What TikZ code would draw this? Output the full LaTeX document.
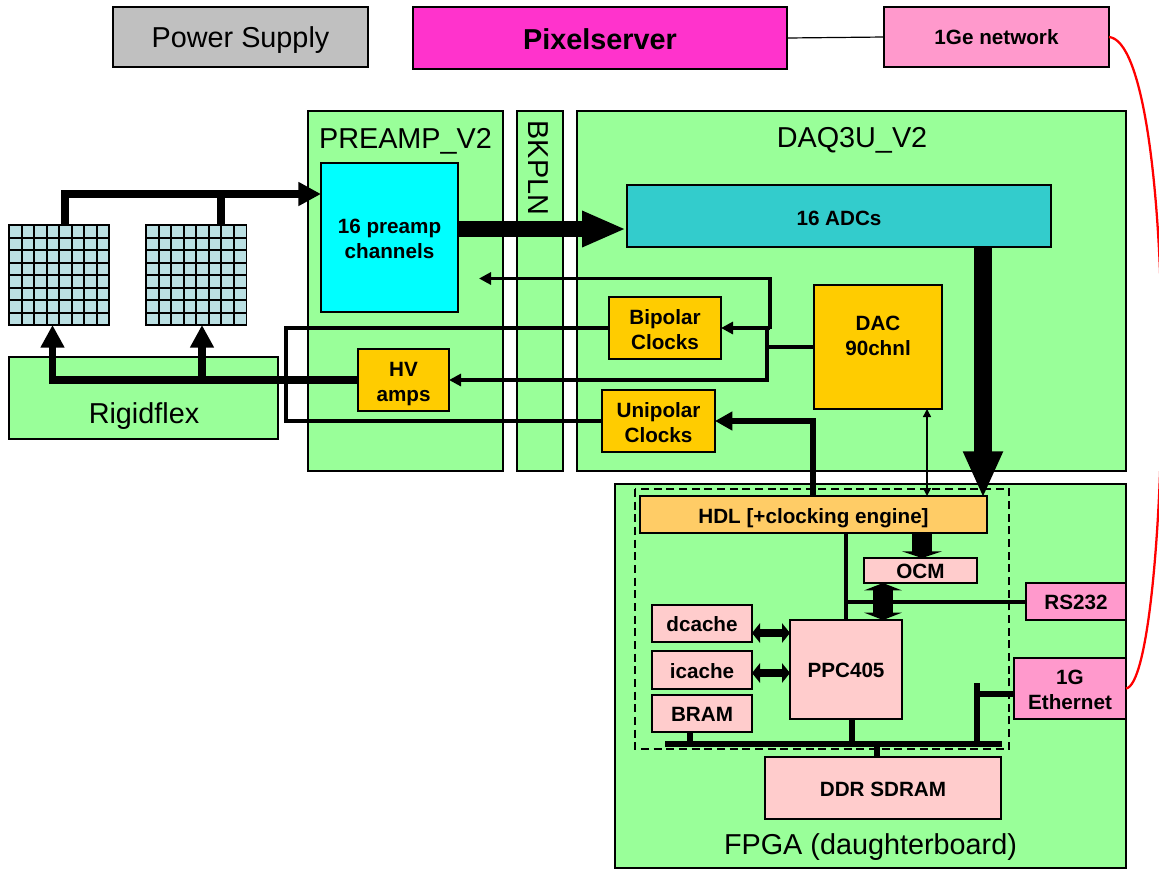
\documentclass[tikz,border=0pt]{standalone}
\usepackage{fontspec}
\setmainfont{Liberation Sans}
\usetikzlibrary{arrows.meta,calc}
\definecolor{boardgreen}{HTML}{99FF99}
\definecolor{lightpink}{HTML}{FFCCCC}
\definecolor{chipgold}{HTML}{FFCC00}
\definecolor{hdlgold}{HTML}{FFCC66}
\definecolor{adcteal}{HTML}{33CCCC}
\definecolor{preampcyan}{HTML}{00FFFF}
\definecolor{pinkbox}{HTML}{FF99CC}
\definecolor{magentabox}{HTML}{FF33CC}
\definecolor{gridblue}{HTML}{BBE0E3}
\definecolor{greybox}{HTML}{C0C0C0}
\tikzset{
  x=0.75pt,y=-0.75pt,
  pxbox/.style={draw=black,line width=1pt,inner sep=0pt,outer sep=0pt,align=center,text=black},
  bigtext/.style={font=\fontsize{21.6}{26}\selectfont},
  smalltext/.style={font=\fontsize{15.5}{18.75}\selectfont\bfseries},
  board/.style={pxbox,fill=boardgreen,bigtext},
  chip/.style={pxbox,fill=chipgold,smalltext},
  mem/.style={pxbox,fill=lightpink,smalltext},
  port/.style={pxbox,fill=pinkbox,smalltext},
  sensor/.style={pxbox,fill=gridblue},
  wire/.style={draw=black,line width=2.4pt,line join=miter},
  sigarrow/.style={wire,-{Triangle[length=9pt,width=9pt]}},
  buswire/.style={draw=black,line width=4.6pt},
  powerarrow/.style={draw=black,line width=5.4pt,-{Triangle[length=17pt,width=17pt]}},
  duplex/.style={draw=black,line width=6pt,{Triangle[length=6pt,width=14.5pt]}-{Triangle[length=6pt,width=14.5pt]}},
  label/.style={inner sep=0pt,text=black},
}
\newcommand{\pxdrop}{0}
\newcommand{\setdrop}[1]{\renewcommand{\pxdrop}{#1}}
\newcommand{\pxbox}[7][]{%
  \pgfmathsetmacro{\pxcx}{(#3+#5)/2}%
  \pgfmathsetmacro{\pxcy}{(#4+#6)/2}%
  \pgfmathsetmacro{\pxty}{\pxcy+\pxdrop}%
  \pgfmathsetmacro{\pxw}{(#5-#3)*0.75}%
  \pgfmathsetmacro{\pxh}{(#6-#4)*0.75}%
  \node[#1,minimum width=\pxw pt,minimum height=\pxh pt] (#2) at (\pxcx,\pxcy) {};%
  \node[#1,draw=none,fill=none] (#2-text) at (\pxcx,\pxty) {#7};%
}
\newcommand{\gridlines}[1]{%
  \foreach \i in {1,...,7} {
    \draw[black,line width=1.5pt] ($(#1.north west)!\i/8!(#1.north east)$) -- ($(#1.south west)!\i/8!(#1.south east)$);
    \draw[black,line width=1.5pt] ($(#1.north west)!\i/8!(#1.south west)$) -- ($(#1.north east)!\i/8!(#1.south east)$);
  }%
}
\begin{document}
\begin{tikzpicture}
\clip (0,0) rectangle (1159,869);
\fill[white] (0,0) rectangle (1159,869);

% top row
\setdrop{3}\pxbox[pxbox,fill=greybox,bigtext]{psu}{113}{7}{368}{67}{Power Supply}
\setdrop{1}\pxbox[pxbox,fill=magentabox,font=\fontsize{21.6}{26}\selectfont\bfseries]{pixel}{413}{7}{787}{69}{Pixelserver}
\setdrop{0}\pxbox[port]{net}{884}{7}{1109}{67}{1Ge network}

% boards
\pxbox[board]{preampboard}{308}{111}{503}{471}{}
\pxbox[board]{bkpln}{517}{111}{563}{471}{}
\pxbox[board]{daq}{577}{111}{1126}{471}{}
\pxbox[board]{rigid}{9}{357}{278}{439}{}
\pxbox[board]{fpga}{615}{484}{1126}{868}{}
\node[label,bigtext] (preamplabel) at (405.5,141) {PREAMP\_V2};
\node[label,bigtext,rotate=-90] (bkplnlabel) at (538,168) {BKPLN};
\node[label,bigtext] (daqlabel) at (852,140) {DAQ3U\_V2};
\node[label,bigtext] (rigidlabel) at (144,416) {Rigidflex};
\node[label,bigtext] (fpgalabel) at (870.5,847) {FPGA (daughterboard)};

% sensors
\pxbox[sensor]{gridA}{9}{225}{109}{325}{}
\pxbox[sensor]{gridB}{146}{225}{246.5}{325}{}
\gridlines{gridA}
\gridlines{gridB}

% blocks
\setdrop{1}\pxbox[pxbox,fill=preampcyan,smalltext]{preamp}{321}{163}{458}{312}{16 preamp\\channels}
\setdrop{2}\pxbox[pxbox,fill=adcteal,smalltext]{adc}{627}{185}{1051}{247}{16 ADCs}
\setdrop{2}\pxbox[chip]{bipolar}{609}{297}{721}{359}{Bipolar\\Clocks}
\setdrop{4}\pxbox[chip]{hv}{358}{349}{449}{411}{HV\\amps}
\setdrop{2}\pxbox[chip]{unipolar}{602}{390}{715}{452}{Unipolar\\Clocks}
\setdrop{-11}\pxbox[chip]{dac}{814}{285}{942}{409}{DAC\\90chnl}
\setdrop{4}\pxbox[pxbox,fill=hdlgold,smalltext]{hdl}{640}{496}{987}{533}{HDL [+clocking engine]}
\setdrop{1}\pxbox[mem]{ocm}{864}{558}{977}{583}{OCM}
\setdrop{1}\pxbox[port]{rs}{1026}{583}{1126}{620}{RS232}
\setdrop{1}\pxbox[mem]{dcache}{652}{605}{752}{642}{dcache}
\setdrop{1}\pxbox[mem]{icache}{652}{651}{752}{689}{icache}
\setdrop{1}\pxbox[mem]{bram}{652}{695}{752}{732}{BRAM}
\setdrop{1}\pxbox[mem]{ppc}{790}{620}{902}{719}{PPC405}
\setdrop{1.5}\pxbox[port]{eth}{1014}{658}{1126}{719}{1G\\Ethernet}
\setdrop{1}\pxbox[mem]{sdram}{765}{757}{1001}{819}{DDR SDRAM}

% helper coordinates
\coordinate (gridAtop) at (65,225);
\coordinate (gridBtop) at (221,225);
\coordinate (preampin) at (321,194);
\coordinate (gridAbot) at (52.5,325);
\coordinate (gridBbot) at (202,325);
\coordinate (rigidA) at (52.5,380);
\coordinate (rigidB) at (202,380);
\coordinate (preampout) at (458,229);
\coordinate (adcin) at (626,229);
\coordinate (adcout) at (983,247);
\coordinate (hdlin) at (983,498);
\coordinate (preampfb) at (479,278.5);
\coordinate (fbcorner) at (770,278.5);
\coordinate (fbbottom) at (770,329);
\coordinate (splitbottom) at (767,328);
\coordinate (dacnode) at (767,347);
\coordinate (loopA) at (286,328);
\coordinate (loopB) at (286,421);
\coordinate (hdlclk) at (813,496);
\coordinate (dacbus) at (927,409);
\coordinate (hdlbus) at (927,496);
\coordinate (ocmtop) at (922,533);
\coordinate (ocmtip) at (922,558);
\coordinate (ocmbot) at (883,583);
\coordinate (ppctop) at (883,620);
\coordinate (ctrlA) at (846,533);
\coordinate (ctrlB) at (846,620);
\coordinate (ctrlC) at (846,602);
\coordinate (busW) at (665,744);
\coordinate (busE) at (1002,744);
\coordinate (bramdrop) at (690,732);
\coordinate (ppcdrop) at (852,719);
\coordinate (sdramdrop) at (877,757);
\coordinate (ethtop) at (977,683);
\coordinate (ethjoin) at (977,694);
\coordinate (ethport) at (1014,694);
\coordinate (redmid) at (1162,370);

% sensor wiring
\draw[draw=black,line width=5.6pt] (gridBtop) -- (gridBtop |- preampin);
\draw[draw=black,line width=5.6pt,-{Triangle[length=17pt,width=17pt]}] (gridAtop) |- (preampin);
\draw[powerarrow] (hv.west) -- (rigidA) -- (gridAbot);
\draw[powerarrow] (rigidB) -- (gridBbot);

% clock loop
\draw[wire] (bipolar.west) -- (loopA) -- (loopB) -- (unipolar.west);

% DAC fan-out
\draw[sigarrow] (fbbottom) -- (fbcorner) -- (preampfb);
\draw[sigarrow] (fbbottom |- bipolar.east) -- (bipolar.east);
\draw[sigarrow] (splitbottom) -- (splitbottom |- hv.east) -- (hv.east);
\draw[wire] (dac.west |- dacnode) -- (dacnode);

% Unipolar feed
\draw[draw=black,line width=3.9pt,-{Triangle[length=13pt,width=13.5pt]}] (hdlclk) |- (unipolar.east);

% data path
\draw[draw=black,line width=11.5pt,-{Triangle[length=33pt,width=25pt]}] (preampout) -- (adcin);
\draw[draw=black,line width=13pt,-{Triangle[length=35pt,width=27.5pt]}] (adcout) -- (hdlin);
\draw[draw=black,line width=1.1pt,{Triangle[length=6pt,width=6pt]}-{Triangle[length=6pt,width=6pt]}] (dacbus) -- (hdlbus);

% FPGA internals
\draw[draw=black,line width=15pt,-{Triangle[length=5pt,width=30pt]}] (ocmtop) -- (ocmtip);
\draw[wire] (ctrlA) -- (ctrlB);
\draw[wire] (ctrlC) -- (ctrlC -| rs.west);
\draw[draw=black,line width=15pt,{Triangle[length=5.5pt,width=28pt]}-{Triangle[length=5.5pt,width=28pt]}] (ocmbot) -- (ppctop);
\draw[duplex] (dcache.east |- 0,633) -- (ppc.west |- 0,633);
\draw[duplex] (icache.east |- 0,673) -- (ppc.west |- 0,673);
\draw[draw=black,line width=5.2pt] (busW) -- (busE);
\draw[draw=black,line width=3.8pt] (bramdrop) -- (bramdrop |- busW);
\draw[buswire] (ppcdrop) -- (ppcdrop |- busW);
\draw[draw=black,line width=3.8pt] (sdramdrop) -- (sdramdrop |- busW);
\draw[buswire] (ethtop) -- (ethtop |- busW);
\draw[buswire] (ethjoin) -- (ethport);

% dashed boundary
\draw[black,line width=1pt,dash pattern=on 6pt off 3.5pt] (635,489) rectangle (1009,749);

% links
\draw[black,line width=0.9pt] (pixel.east) -- (net.west);
\draw[red,line width=1.7pt] (net.east) .. controls (1142,40) and (1162,180) .. (redmid)
   .. controls (1162,530) and (1148,685) .. (eth.east);
\end{tikzpicture}
\end{document}
